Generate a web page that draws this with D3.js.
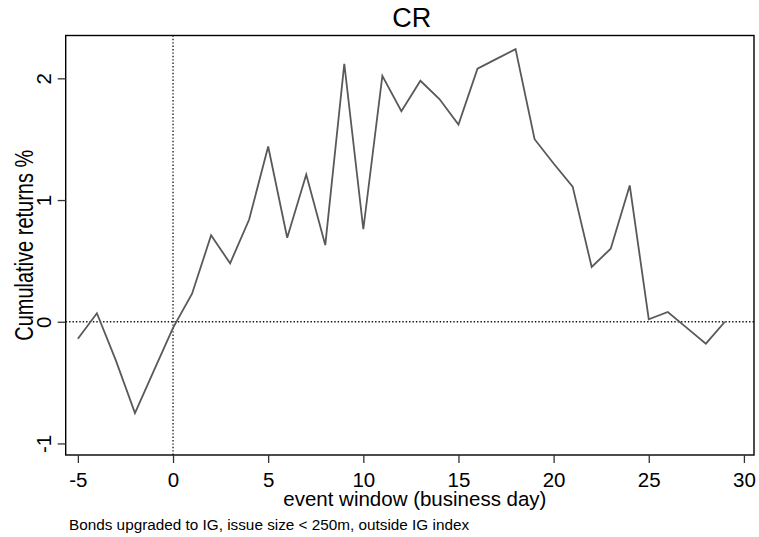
<!DOCTYPE html>
<html>
<head>
<meta charset="utf-8">
<script src="https://cdn.jsdelivr.net/npm/d3@7"></script>
<style>
  body { margin: 0; background: #fff; }
  svg { display: block; font-family: "Liberation Sans", Arial, sans-serif; }
</style>
</head>
<body>
<svg id="chart"></svg>
<script>
// event days and cumulative returns (%)
const days = [-5, -4, -3, -2, -1, 0, 1, 2, 3, 4, 5, 6, 7, 8, 9, 10, 11, 12, 13, 14,
  15, 16, 17, 18, 19, 20, 21, 22, 23, 24, 25, 26, 27, 28, 29];
const cr = [-0.14, 0.07, -0.32, -0.75, -0.40, -0.05, 0.23, 0.71, 0.48, 0.84, 1.44, 0.69,
  1.21, 0.63, 2.12, 0.76, 2.02, 1.73, 1.98, 1.83, 1.62, 2.08, 2.16, 2.24, 1.50, 1.30,
  1.11, 0.45, 0.60, 1.12, 0.02, 0.08, -0.05, -0.18, 0.00];
const xTicks = [-5, 0, 5, 10, 15, 20, 25, 30];
const yTicks = [-1, 0, 1, 2];

const width = 759, height = 537;
const margin = { top: 35.5, right: 5, bottom: 82, left: 65.7 };
const font = '"Liberation Sans", Arial, sans-serif';

const svg = d3.select('#chart').attr('width', width).attr('height', height);

const x = d3.scaleLinear().domain([-5.64, 30.53]).range([margin.left, width - margin.right]);
const y = d3.scaleLinear().domain([-1.095, 2.352]).range([height - margin.bottom, margin.top]);

const data = days.map((d, i) => ({ day: d, v: cr[i] }));

// zero reference lines
svg.append('line')
  .attr('x1', x.range()[0]).attr('x2', x.range()[1])
  .attr('y1', y(0)).attr('y2', y(0))
  .attr('stroke', '#111').attr('stroke-width', 1.3).attr('stroke-dasharray', '1.4,2');
svg.append('line')
  .attr('x1', x(0)).attr('x2', x(0))
  .attr('y1', y.range()[0]).attr('y2', y.range()[1])
  .attr('stroke', '#111').attr('stroke-width', 1.3).attr('stroke-dasharray', '1.4,2');

svg.append('path')
  .datum(data)
  .attr('fill', 'none')
  .attr('stroke', '#595959')
  .attr('stroke-width', 1.8)
  .attr('stroke-linejoin', 'miter')
  .attr('d', d3.line().x((d) => x(d.day)).y((d) => y(d.v)));

// plot box
svg.append('rect')
  .attr('x', x.range()[0]).attr('y', y.range()[1])
  .attr('width', x.range()[1] - x.range()[0])
  .attr('height', y.range()[0] - y.range()[1])
  .attr('fill', 'none').attr('stroke', '#000').attr('stroke-width', 1.4);

const xAxis = svg.append('g')
  .attr('transform', `translate(0,${y.range()[0]})`)
  .call(d3.axisBottom(x).tickValues(xTicks).tickSize(8).tickSizeOuter(0).tickFormat((d) => String(d)));
xAxis.select('.domain').remove();
xAxis.selectAll('line').attr('stroke', '#333').attr('stroke-width', 1.3);
xAxis.selectAll('text')
  .attr('y', 31.7).attr('dy', 0)
  .attr('font-size', 20.5).attr('fill', '#000')
  .attr('font-family', font);

const yAxis = svg.append('g')
  .attr('transform', `translate(${x.range()[0]},0)`)
  .call(d3.axisLeft(y).tickValues(yTicks).tickSize(8).tickSizeOuter(0).tickFormat((d) => String(d)));
yAxis.select('.domain').remove();
yAxis.selectAll('line').attr('stroke', '#333').attr('stroke-width', 1.3);
yAxis.selectAll('text')
  .attr('x', 0).attr('y', 0).attr('dy', 0)
  .attr('text-anchor', 'middle')
  .attr('font-size', 20.5).attr('fill', '#000')
  .attr('font-family', font)
  .attr('transform', 'translate(-14.5,0) rotate(-90)');

const cx = (x.range()[0] + x.range()[1]) / 2;
const cy = (y.range()[0] + y.range()[1]) / 2;

svg.append('text')
  .attr('x', cx + 2).attr('y', 26.7)
  .attr('text-anchor', 'middle')
  .attr('font-size', 27)
  .text('CR');

svg.append('text')
  .attr('x', cx + 5).attr('y', 505.5)
  .attr('text-anchor', 'middle')
  .attr('font-size', 20.5)
  .text('event window (business day)');

// the rotated title is drawn taller than it is long in the original
svg.append('text')
  .attr('transform', `translate(33,${cy}) scale(1.3,1) rotate(-90)`)
  .attr('text-anchor', 'middle')
  .attr('font-size', 20)
  .text('Cumulative returns %');

svg.append('text')
  .attr('x', 69).attr('y', 530)
  .attr('font-size', 15.3)
  .text('Bonds upgraded to IG, issue size < 250m, outside IG index');
</script>
</body>
</html>
